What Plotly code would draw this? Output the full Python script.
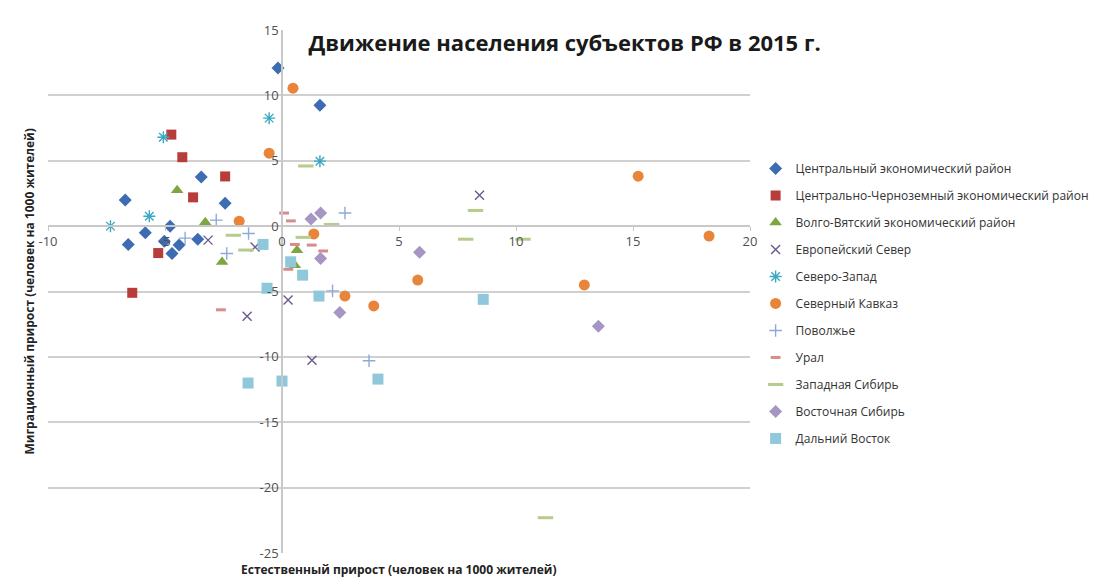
import plotly.graph_objects as go

series_names = [
    "Центральный экономический район",
    "Центрально-Черноземный экономический район",
    "Волго-Вятский экономический район",
    "Европейский Север",
    "Северо-Запад",
    "Северный Кавказ",
    "Поволжье",
    "Урал",
    "Западная Сибирь",
    "Восточная Сибирь",
    "Дальний Восток",
]

central_x = [-0.17, 1.62, -6.7, -6.57, -5.84, -4.78, -5.03, -4.7, -4.4, -3.45, -3.6, -2.43]
central_y = [12.1, 9.25, 2.0, -1.4, -0.5, 0.0, -1.15, -2.1, -1.45, 3.75, -1.0, 1.75]

chern_x = [-4.73, -4.26, -3.8, -2.43, -5.29, -6.4]
chern_y = [7.0, 5.27, 2.2, 3.8, -2.06, -5.1]

volga_x = [-4.48, -3.28, -2.56, 0.64, 0.55]
volga_y = [2.75, 0.3, -2.75, -1.85, -3.0]

north_x = [8.44, -3.16, -1.15, -1.49, 0.26, 1.28]
north_y = [2.37, -1.07, -1.6, -6.9, -5.65, -10.25]

nw_x = [-5.07, -0.55, 1.62, -7.33, -5.67]
nw_y = [6.8, 8.26, 4.97, 0.0, 0.76]

cauc_x = [0.47, -0.55, -1.83, 1.36, 2.69, 3.92, 5.8, 12.92, 15.22, 18.25]
cauc_y = [10.55, 5.58, 0.38, -0.6, -5.35, -6.1, -4.13, -4.5, 3.82, -0.76]

povol_x = [-2.81, -4.14, -1.43, -2.36, 2.69, 2.16, 3.72]
povol_y = [0.46, -0.92, -0.56, -2.09, 1.0, -4.95, -10.3]

ural_x = [0.09, 0.38, -2.61, 0.55, 1.27, 1.76, 0.27]
ural_y = [1.0, 0.4, -6.4, -1.4, -1.45, -1.9, -3.3]

wsib_x = [1.02, 2.12, 0.91, -2.08, -1.54, 8.27, 7.85, 11.26, 10.3]
wsib_y = [4.6, 0.13, -0.86, -0.7, -1.83, 1.2, -1.0, -22.3, -1.0]

esib_x = [1.24, 1.65, 1.65, 2.47, 5.88, 13.52]
esib_y = [0.54, 1.0, -2.47, -6.6, -2.0, -7.65]

fe_x = [-0.81, -0.64, 0.37, 0.88, 1.58, 8.6, -1.45, 0.0, 4.1]
fe_y = [-1.4, -4.75, -2.73, -3.75, -5.35, -5.6, -12.0, -11.85, -11.7]

x_ticks = [-10, -5, 0, 5, 10, 15, 20]
x_tick_labels = ["-10", "-5", "0", "5", "10", "15", "20"]
y_ticks = [-25, -20, -15, -10, -5, 0, 5, 10, 15]
y_tick_labels = ["-25", "-20", "-15", "-10", "-5", "0", "5", "10", "15"]

data = [
    (central_x, central_y, "diamond", "#3d6cb2", 10, 0),
    (chern_x, chern_y, "square", "#b83c3a", 10, 0),
    (volga_x, volga_y, "triangle-up", "#7fa540", 11, 0),
    (north_x, north_y, "x-thin-open", "#6b5a8e", 9, 1.4),
    (nw_x, nw_y, "asterisk-open", "#3aa8c1", 10, 1.4),
    (cauc_x, cauc_y, "circle", "#e8853a", 11, 0),
    (povol_x, povol_y, "cross-thin-open", "#8ea9d6", 9, 1.4),
    (ural_x, ural_y, "line-ew-open", "#d98a8a", 7, 3),
    (wsib_x, wsib_y, "line-ew-open", "#b5cc8a", 11, 3),
    (esib_x, esib_y, "diamond", "#a696c4", 10, 0),
    (fe_x, fe_y, "square", "#8fc8da", 11, 0),
]

fig = go.Figure()
for name, (xs, ys, sym, col, sz, lw) in zip(series_names, data):
    marker = dict(symbol=sym, color=col, size=sz)
    if lw:
        marker["line"] = dict(color=col, width=lw)
    fig.add_trace(go.Scatter(x=xs, y=ys, mode="markers", name=name, marker=marker,
                             legendgroup=name))

fig.update_layout(
    width=1100, height=569,
    paper_bgcolor="white", plot_bgcolor="white",
    margin=dict(l=40, r=358, t=22, b=24, autoexpand=False),
    font=dict(family="Open Sans, DejaVu Sans, sans-serif", color="#404040"),
    title=dict(text="<b>Движение населения субъектов РФ в 2015 г.</b>",
               x=0.506, xanchor="center", y=0.938, yanchor="middle",
               font=dict(size=22, color="#1a1a1a", family="Open Sans, sans-serif")),
    showlegend=True,
    legend=dict(x=1.008, xanchor="left", y=0.763, yanchor="top",
                font=dict(size=12, color="#333333"), tracegroupgap=8,
                bgcolor="rgba(0,0,0,0)"),
    xaxis=dict(range=[-10, 20], tickvals=x_ticks, ticktext=x_tick_labels,
               showgrid=False, zeroline=False, showline=True, linecolor="#c8c8c8",
               linewidth=1.5, anchor="free", position=0.625, automargin=False,
               ticks="outside", ticklen=4, tickcolor="#c8c8c8",
               tickfont=dict(size=13, color="#505050")),
    yaxis=dict(range=[-25, 15], tickvals=y_ticks, ticktext=y_tick_labels,
               showgrid=True, gridcolor="#d0d0d0", gridwidth=1.5, zeroline=False,
               showline=True, linecolor="#c8c8c8", linewidth=1.5,
               anchor="free", position=1/3, ticks="", automargin=False,
               tickfont=dict(size=13, color="#505050")),
)

fig.add_annotation(text="<b>Естественный прирост (человек на 1000 жителей)</b>",
                   xref="paper", yref="paper", x=0.5, y=-0.012, yanchor="top",
                   showarrow=False, font=dict(size=12, color="#222222"))
fig.add_annotation(text="<b>Миграционный прирост (человек на 1000 жителей)</b>",
                   xref="paper", yref="paper", x=-0.012, y=0.5, textangle=-90,
                   xanchor="right", showarrow=False, font=dict(size=12, color="#222222"))

fig.write_html("out.html")
